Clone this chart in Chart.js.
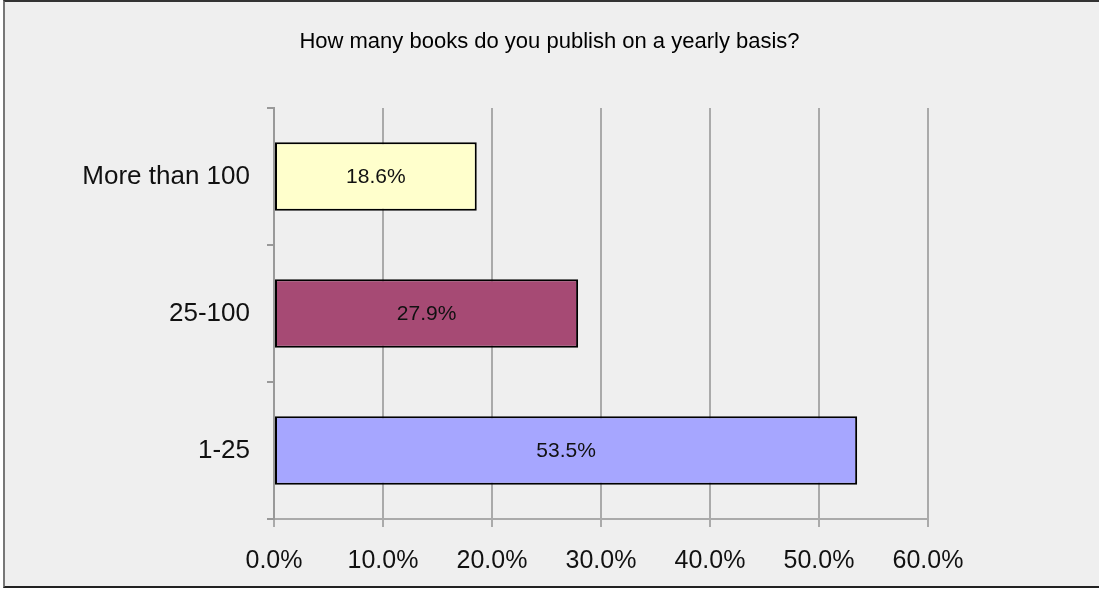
<!DOCTYPE html>
<html>
<head>
<meta charset="utf-8">
<script src="https://cdn.jsdelivr.net/npm/chart.js@4"></script>
<style>
    html, body { margin: 0; padding: 0; background: #ffffff; }
    #frame {
        position: absolute; left: 3px; top: 0; width: 1096px; height: 588px;
        background: #efefef;
        border-top: 2px solid #333333;
        border-left: 2px solid #777777;
        border-bottom: 2px solid #222222;
        box-sizing: border-box;
    }
    #wrap { position: absolute; left: 0; top: 0; width: 1099px; height: 589px; }
</style>
</head>
<body>
<div id="frame"></div>
<div id="wrap"><canvas id="myChart" width="1099" height="589"></canvas></div>
<script>
const titleText = 'How many books do you publish on a yearly basis?';
const categories = ['More than 100', '25-100', '1-25'];
const shares = [18.6, 27.9, 53.5];
const barColors = ['#ffffcc', '#a64a74', '#a6a6ff'];
const xTicks = [0, 10, 20, 30, 40, 50, 60];

const fontFamily = '"Liberation Sans", Arial, Helvetica, sans-serif';

// draws the value in the middle of each bar
const valueLabels = {
    id: 'valueLabels',
    afterDatasetsDraw(chart) {
        const ctx = chart.ctx;
        const meta = chart.getDatasetMeta(0);
        ctx.save();
        ctx.font = '21px ' + fontFamily;
        ctx.fillStyle = '#111111';
        ctx.textAlign = 'center';
        ctx.textBaseline = 'middle';
        meta.data.forEach((bar, i) => {
            const p = bar.getProps(['x', 'y', 'base'], true);
            ctx.fillText(shares[i].toFixed(1) + '%', (p.x + p.base) / 2, p.y + 1);
        });
        ctx.restore();
    }
};

const ctx = document.getElementById('myChart').getContext('2d');
const myChart = new Chart(ctx, {
    type: 'bar',
    data: {
        labels: categories,
        datasets: [{
            data: shares,
            backgroundColor: barColors,
            borderColor: '#000000',
            borderWidth: 2,
            borderSkipped: false,
            barPercentage: 0.5,
            categoryPercentage: 1.0
        }]
    },
    options: {
        indexAxis: 'y',
        responsive: false,
        animation: false,
        layout: {
            padding: 0
        },
        plugins: {
            legend: false,
            tooltip: { enabled: false },
            title: {
                display: true,
                text: titleText,
                color: '#000000',
                font: { family: fontFamily, size: 22, weight: 'normal', lineHeight: 1.2 },
                padding: { top: 29, bottom: 52.6 }
            }
        },
        scales: {
            x: {
                min: 0,
                max: 60,
                afterFit(scale) { scale.height = 70; },
                afterBuildTicks(scale) { scale.ticks = xTicks.map(v => ({ value: v })); },
                grid: {
                    color: '#aaaaaa',
                    lineWidth: 2,
                    tickLength: 8
                },
                border: { color: '#aaaaaa', width: 2 },
                ticks: {
                    color: '#111111',
                    padding: 19,
                    font: { family: fontFamily, size: 25 },
                    callback: (v) => Number(v).toFixed(1) + '%'
                }
            },
            y: {
                afterFit(scale) { scale.width = 274; },
                grid: {
                    color: '#999999',
                    lineWidth: 2,
                    drawOnChartArea: false,
                    tickLength: 7
                },
                border: { color: '#999999', width: 2 },
                ticks: {
                    color: '#111111',
                    padding: 17,
                    font: { family: fontFamily, size: 26 }
                }
            },
            // empty axis on the right, only to keep the plot narrower than the canvas
            yRight: {
                type: 'category',
                position: 'right',
                afterFit(scale) { scale.width = 171; },
                grid: { display: false },
                border: { display: false },
                ticks: { display: false }
            }
        }
    },
    plugins: [valueLabels]
});
</script>
</body>
</html>
